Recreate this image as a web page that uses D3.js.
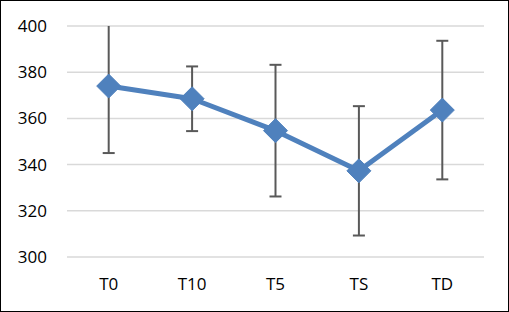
<!DOCTYPE html>
<html>
<head>
<meta charset="utf-8">
<script src="https://cdn.jsdelivr.net/npm/d3@7"></script>
<style>
  body { margin: 0; background: #fff; }
  svg { display: block; }
</style>
</head>
<body>
<div id="chart"></div>
<script>
let w = 509;
let h = 312;

// data
const categories = ["T0", "T10", "T5", "TS", "TD"];
const means = [374, 368.5, 354.7, 337.3, 363.6];
const errors = [29, 14, 28.5, 28, 30];
const yTicks = [300, 320, 340, 360, 380, 400];

const x = d3.scaleBand().domain(categories).range([67, 484]);
const y = d3.scaleLinear().domain([300, 400]).range([257, 26]);

const svg = d3.select("#chart").append("svg")
    .attr("width", w)
    .attr("height", h);

// outer frame
svg.append("rect")
    .attr("x", 0.5).attr("y", 0.5)
    .attr("width", w - 1).attr("height", h - 1)
    .attr("fill", "#fff")
    .attr("stroke", "#000");

// gridlines
svg.append("g")
  .selectAll("line")
  .data(yTicks)
  .join("line")
    .attr("x1", 67).attr("x2", 484)
    .attr("y1", d => y(d)).attr("y2", d => y(d))
    .attr("stroke", "#d9d9d9")
    .attr("stroke-width", 1.5);

// y axis
const yAxis = svg.append("g")
    .attr("transform", "translate(47,0)")
    .call(d3.axisLeft(y).tickValues(yTicks).tickSize(0).tickPadding(0));
yAxis.select(".domain").remove();
yAxis.selectAll("text")
    .attr("font-family", "Open Sans, sans-serif")
    .attr("font-size", "17px")
    .attr("fill", "#000");

// x axis
const xAxis = svg.append("g")
    .attr("transform", "translate(0,278)")
    .call(d3.axisBottom(x).tickSize(0).tickPadding(0));
xAxis.select(".domain").remove();
xAxis.selectAll("text")
    .attr("font-family", "Open Sans, sans-serif")
    .attr("font-size", "17px")
    .attr("fill", "#000");

const cx = d => x(d) + x.bandwidth() / 2;

// error bars
const eb = svg.append("g")
    .attr("stroke", "#595959")
    .attr("stroke-width", 2);

categories.forEach((c, i) => {
  const top = Math.min(means[i] + errors[i], 400);
  const bot = means[i] - errors[i];
  eb.append("line")
    .attr("x1", cx(c)).attr("x2", cx(c))
    .attr("y1", y(top)).attr("y2", y(bot));
  if (means[i] + errors[i] <= 400) {
    eb.append("line")
      .attr("x1", cx(c) - 6).attr("x2", cx(c) + 6)
      .attr("y1", y(top)).attr("y2", y(top));
  }
  eb.append("line")
    .attr("x1", cx(c) - 6).attr("x2", cx(c) + 6)
    .attr("y1", y(bot)).attr("y2", y(bot));
});

// line
const line = d3.line()
    .x((d, i) => cx(categories[i]))
    .y(d => y(d));

svg.append("path")
    .datum(means)
    .attr("d", line)
    .attr("fill", "none")
    .attr("stroke", "#4f81bd")
    .attr("stroke-width", 5)
    .attr("stroke-linejoin", "round");

// diamond markers
svg.append("g")
  .selectAll("path")
  .data(means)
  .join("path")
    .attr("transform", (d, i) => "translate(" + cx(categories[i]) + "," + y(d) + ")")
    .attr("d", "M0,-12L12,0L0,12L-12,0Z")
    .attr("fill", "#4f81bd")
    .attr("stroke", "#4f81bd")
    .attr("stroke-width", 1);
</script>
</body>
</html>
